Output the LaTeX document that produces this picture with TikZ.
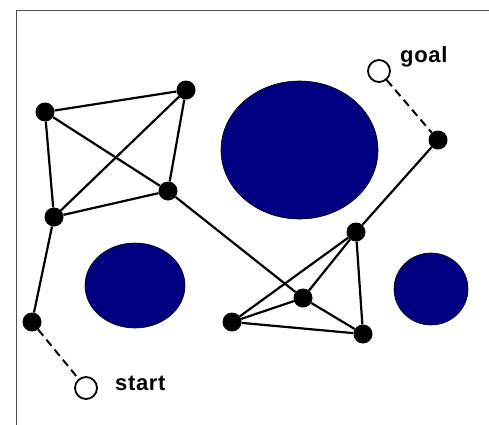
\documentclass[tikz,border=0pt]{standalone}
\usepackage{fontspec}
\setmainfont{Liberation Sans}
\definecolor{navyobs}{RGB}{0,0,128}
\definecolor{framegray}{RGB}{80,80,80}
\begin{document}
\begin{tikzpicture}[x=1pt,y=-1pt,
  vert/.style={circle,fill=black,inner sep=0pt,minimum size=19pt},
  endpt/.style={circle,draw=black,line width=1.8pt,fill=white,inner sep=0pt,minimum size=22pt},
  edge/.style={line width=2.2pt,black},
  dashedge/.style={line width=2pt,black,dash pattern=on 8pt off 5pt},
  obstacle/.style={fill=navyobs,draw=black,line width=0.6pt},
  lbl/.style={font=\fontsize{22}{22}\selectfont\bfseries\addfontfeature{LetterSpace=3},inner sep=0pt,anchor=base west}]
\useasboundingbox (0,0) rectangle (489,424);
\fill[white] (0,0) rectangle (489,424);
\draw[framegray,line width=1.2pt] (16.5,440) -- (16.5,10.5) -- (500,10.5);
% obstacles
\draw[obstacle] (299.5,150) ellipse [x radius=78.5, y radius=69];
\draw[obstacle] (135,285.5) ellipse [x radius=50, y radius=42.5];
\draw[obstacle] (431,289) ellipse [x radius=37, y radius=36];
% vertices
\node[vert] (A) at (45,112) {};
\node[vert] (B) at (186,90) {};
\node[vert] (C) at (168,191) {};
\node[vert] (D) at (54,217) {};
\node[vert] (E) at (32,322) {};
\node[vert] (F) at (356,232) {};
\node[vert] (G) at (303,298) {};
\node[vert] (H) at (232,322) {};
\node[vert] (I) at (363,334) {};
\node[vert] (J) at (438,140) {};
\node[endpt] (S) at (86,388) {};
\node[endpt] (T) at (379,71) {};
\node[lbl] (SL) at (115,390) {start};
\node[lbl] (TL) at (400,62) {goal};
% edges
\draw[edge] (A) -- (B);
\draw[edge] (A) -- (C);
\draw[edge] (A) -- (D);
\draw[edge] (B) -- (D);
\draw[edge] (B) -- (C);
\draw[edge] (C) -- (D);
\draw[edge] (D) -- (E);
\draw[edge] (C) -- (G);
\draw[edge] (H) -- (F);
\draw[edge] (H) -- (G);
\draw[edge] (H) -- (I);
\draw[edge] (G) -- (F);
\draw[edge] (G) -- (I);
\draw[edge] (F) -- (I);
\draw[edge] (F) -- (J);
\draw[dashedge] (E) -- (S);
\draw[dashedge] (T) -- (J);
\end{tikzpicture}
\end{document}
